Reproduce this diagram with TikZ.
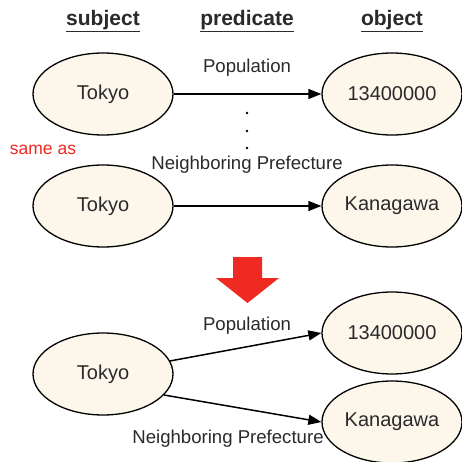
\documentclass[tikz,border=0pt]{standalone}
\usepackage{fontspec}
\setmainfont{Liberation Sans}
\usetikzlibrary{arrows.meta,shapes.geometric}
\definecolor{cream}{HTML}{FCF7EA}
\definecolor{ink}{HTML}{2A2A2A}
\definecolor{alertred}{HTML}{EE2A22}
\tikzset{
  res/.style={ellipse, draw=black, line width=1.3pt, fill=cream,
    minimum width=140pt, minimum height=82pt, inner sep=0pt,
    text=ink, font=\fontsize{20}{24}\selectfont},
  head/.style={text=ink, font=\fontsize{21}{25}\selectfont\bfseries},
  lbl/.style={text=ink, font=\fontsize{18.6}{22}\selectfont, inner sep=0pt},
  link/.style={line width=1.5pt, -{Triangle[length=13pt,width=10pt]}},
}
\begin{document}
\begin{tikzpicture}[x=1pt,y=-1pt]
\useasboundingbox (0,0) rectangle (461,462);
\fill[white] (0,0) rectangle (461,462);

% column headings
\node[head] (hs) at (103,21) {\underline{subject}};
\node[head] (hp) at (247,21) {\underline{predicate}};
\node[head] (ho) at (392,21) {\underline{object}};

% two separate triples
\node[res] (s1) at (103,94) {Tokyo};
\node[res] (o1) at (392,94) {13400000};
\node[res] (s2) at (103,206) {Tokyo};
\node[res] (o2) at (392,206) {Kanagawa};
\draw[link] (s1.east) -- (o1.west);
\draw[link] (s2.east) -- (o2.west);
\node[lbl] (p1) at (247,68) {Population};
\node[lbl] (p2) at (247,165) {Neighboring Prefecture};
\node[text=alertred, font=\fontsize{17.5}{21}\selectfont, inner sep=0pt] (same) at (43,150) {same as};
\foreach \y in {113,131,148} \fill[black] (247,\y) circle (1.3pt);

% merge arrow
\fill[alertred] (233,257) -- (262,257) -- (262,278) -- (279,278) -- (247.5,303)
  -- (216,278) -- (233,278) -- cycle;

% merged graph
\node[res] (s3) at (103,374) {Tokyo};
\node[res] (o3) at (392,333) {13400000};
\node[res] (o4) at (392,422) {Kanagawa};
\draw[link] (s3.11) -- (o3.west);
\draw[link] (s3.-19) -- (o4.west);
\node[lbl] (p3) at (247,326) {Population};
\node[lbl] (p4) at (228,439) {Neighboring Prefecture};
\end{tikzpicture}
\end{document}
